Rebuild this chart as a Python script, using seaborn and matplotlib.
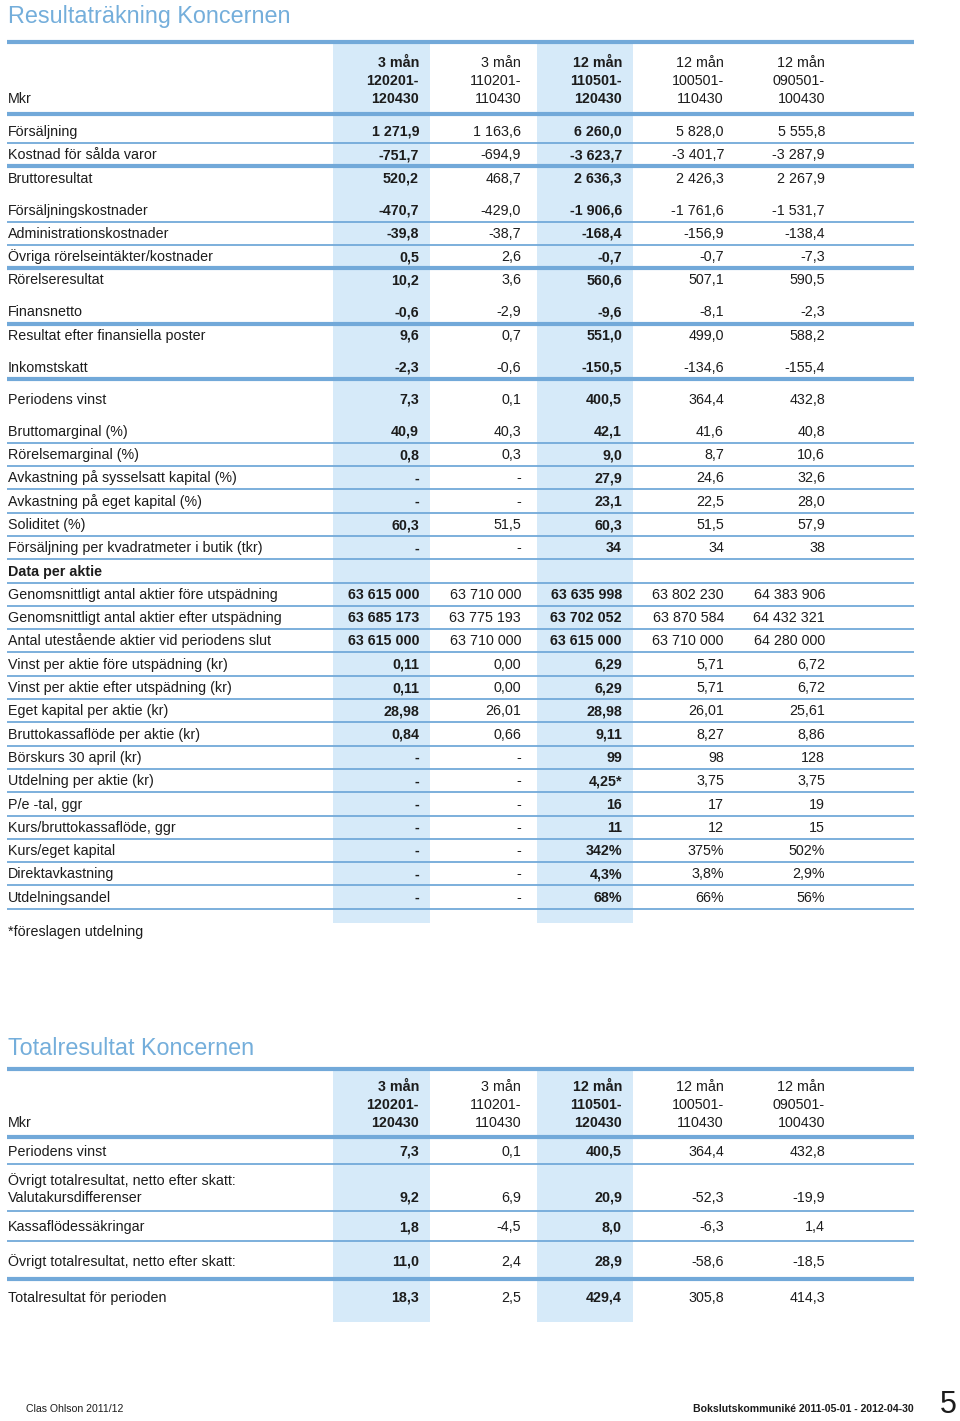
import matplotlib
matplotlib.use("Agg")
import matplotlib.pyplot as plt
import seaborn as sns

# ---- data -------------------------------------------------------------
col_heads = [["3 mån", "120201-", "120430"],
             ["3 mån", "110201-", "110430"],
             ["12 mån", "110501-", "120430"],
             ["12 mån", "100501-", "110430"],
             ["12 mån", "090501-", "100430"]]

labels = ["Försäljning", "Kostnad för sålda varor", "Bruttoresultat",
          "Försäljningskostnader", "Administrationskostnader",
          "Övriga rörelseintäkter/kostnader", "Rörelseresultat",
          "Finansnetto", "Resultat efter finansiella poster", "Inkomstskatt",
          "Periodens vinst", "Bruttomarginal (%)", "Rörelsemarginal (%)",
          "Avkastning på sysselsatt kapital (%)", "Avkastning på eget kapital (%)",
          "Soliditet (%)", "Försäljning per kvadratmeter i butik (tkr)",
          "Data per aktie",
          "Genomsnittligt antal aktier före utspädning",
          "Genomsnittligt antal aktier efter utspädning",
          "Antal utestående aktier vid periodens slut",
          "Vinst per aktie före utspädning (kr)",
          "Vinst per aktie efter utspädning (kr)",
          "Eget kapital per aktie (kr)", "Bruttokassaflöde per aktie (kr)",
          "Börskurs 30 april (kr)", "Utdelning per aktie (kr)", "P/e -tal, ggr",
          "Kurs/bruttokassaflöde, ggr", "Kurs/eget kapital", "Direktavkastning",
          "Utdelningsandel"]

q_2012 = ["1 271,9", "-751,7", "520,2", "-470,7", "-39,8", "0,5", "10,2",
          "-0,6", "9,6", "-2,3", "7,3", "40,9", "0,8", "-", "-", "60,3", "-",
          "", "63 615 000", "63 685 173", "63 615 000", "0,11", "0,11",
          "28,98", "0,84", "-", "-", "-", "-", "-", "-", "-"]
q_2011 = ["1 163,6", "-694,9", "468,7", "-429,0", "-38,7", "2,6", "3,6",
          "-2,9", "0,7", "-0,6", "0,1", "40,3", "0,3", "-", "-", "51,5", "-",
          "", "63 710 000", "63 775 193", "63 710 000", "0,00", "0,00",
          "26,01", "0,66", "-", "-", "-", "-", "-", "-", "-"]
y_1112 = ["6 260,0", "-3 623,7", "2 636,3", "-1 906,6", "-168,4", "-0,7",
          "560,6", "-9,6", "551,0", "-150,5", "400,5", "42,1", "9,0", "27,9",
          "23,1", "60,3", "34", "", "63 635 998", "63 702 052", "63 615 000",
          "6,29", "6,29", "28,98", "9,11", "99", "4,25*", "16", "11", "342%",
          "4,3%", "68%"]
y_1011 = ["5 828,0", "-3 401,7", "2 426,3", "-1 761,6", "-156,9", "-0,7",
          "507,1", "-8,1", "499,0", "-134,6", "364,4", "41,6", "8,7", "24,6",
          "22,5", "51,5", "34", "", "63 802 230", "63 870 584", "63 710 000",
          "5,71", "5,71", "26,01", "8,27", "98", "3,75", "17", "12", "375%",
          "3,8%", "66%"]
y_0910 = ["5 555,8", "-3 287,9", "2 267,9", "-1 531,7", "-138,4", "-7,3",
          "590,5", "-2,3", "588,2", "-155,4", "432,8", "40,8", "10,6", "32,6",
          "28,0", "57,9", "38", "", "64 383 906", "64 432 321", "64 280 000",
          "6,72", "6,72", "25,61", "8,86", "128", "3,75", "19", "15", "502%",
          "2,9%", "56%"]

tot_labels = ["Periodens vinst", "Valutakursdifferenser", "Kassaflödessäkringar",
              "Övrigt totalresultat, netto efter skatt:",
              "Totalresultat för perioden"]
tot_q_2012 = ["7,3", "9,2", "1,8", "11,0", "18,3"]
tot_q_2011 = ["0,1", "6,9", "-4,5", "2,4", "2,5"]
tot_y_1112 = ["400,5", "20,9", "8,0", "28,9", "429,4"]
tot_y_1011 = ["364,4", "-52,3", "-6,3", "-58,6", "305,8"]
tot_y_0910 = ["432,8", "-19,9", "1,4", "-18,5", "414,3"]

# ---- layout / style ---------------------------------------------------
# extra space before a row, and the rule drawn under it
gap_before = {3, 7, 9, 10, 11}
rule_under = {0: 1, 1: 2, 3: 1, 4: 1, 5: 2, 7: 2, 9: 2}
rule_under.update({i: 1 for i in range(11, 32)})
tot_y = [1151, 1197, 1226, 1261, 1297]
tot_rules = [(1164, 1), (1211, 1), (1241, 1), (1279, 2)]

BLUE = "#72a9d9"
SHADE = "#d6eaf9"
TITLE = "#74aedb"
INK = "#1c1c1c"
col_right = [419, 521, 622, 724, 825]
bold_cols = [True, False, True, False, False]
FS = 10.3

sns.set_theme(style="white")
plt.rcParams["font.family"] = ["Liberation Sans", "DejaVu Sans"]

fig = plt.figure(figsize=(9.6, 14.21), dpi=100)
ax = fig.add_axes([0, 0, 1, 1])
ax.set_xlim(0, 960)
ax.set_ylim(1421, 0)
ax.axis("off")


def rule(y, kind):
    ax.plot([7, 914], [y, y], color=BLUE, lw=1.3 if kind == 1 else 3.0,
            solid_capstyle="butt", zorder=2)


def header(y0):
    for c, lines in enumerate(col_heads):
        for k, s in enumerate(lines):
            ax.text(col_right[c], y0 + k * 18 + 5, s, ha="right", va="baseline",
                    fontsize=FS, color=INK,
                    fontweight="bold" if bold_cols[c] else "normal", zorder=3)
    ax.text(8, y0 + 36 + 5, "Mkr", ha="left", va="baseline", fontsize=FS,
            color=INK, zorder=3)


def shade(y0, y1):
    for c in (0, 2):
        ax.fill_between([333, 430] if c == 0 else [537, 633], y0, y1,
                        color=SHADE, lw=0, zorder=1)


# ---- table 1 ------------------------------------------------------------
ax.text(8, 23, "Resultaträkning Koncernen", fontsize=16.8, color=TITLE,
        va="baseline", ha="left")
shade(44, 923)
rule(42, 2)
header(62)
rule(114, 2)

cols = [q_2012, q_2011, y_1112, y_1011, y_0910]
y = 131.0
for i, lab in enumerate(labels):
    if i > 0:
        y += 23.3 + (8.7 if i in gap_before else 0)
    ax.text(8, y + 5, lab, ha="left", va="baseline", fontsize=FS, color=INK,
            fontweight="bold" if lab == "Data per aktie" else "normal", zorder=3)
    for c, vals in enumerate(cols):
        ax.text(col_right[c], y + 5, vals[i], ha="right", va="baseline",
                fontsize=FS, color=INK,
                fontweight="bold" if bold_cols[c] else "normal", zorder=3)
    if i in rule_under:
        rule(y + 12, rule_under[i])

ax.text(8, 936, "*föreslagen utdelning", ha="left", va="baseline",
        fontsize=FS, color=INK)

# ---- table 2 ------------------------------------------------------------
ax.text(8, 1055, "Totalresultat Koncernen", fontsize=16.8, color=TITLE,
        va="baseline", ha="left")
shade(1071, 1322)
rule(1069, 2)
header(1086)
rule(1137, 2)
ax.text(8, 1185, "Övrigt totalresultat, netto efter skatt:", ha="left",
        va="baseline", fontsize=FS, color=INK, zorder=3)
tcols = [tot_q_2012, tot_q_2011, tot_y_1112, tot_y_1011, tot_y_0910]
for i, lab in enumerate(tot_labels):
    ax.text(8, tot_y[i] + 5, lab, ha="left", va="baseline", fontsize=FS,
            color=INK, zorder=3)
    for c, vals in enumerate(tcols):
        ax.text(col_right[c], tot_y[i] + 5, vals[i], ha="right", va="baseline",
                fontsize=FS, color=INK,
                fontweight="bold" if bold_cols[c] else "normal", zorder=3)
for yy, kind in tot_rules:
    rule(yy, kind)

# ---- footer -------------------------------------------------------------
narrow = ["Liberation Sans Narrow", "Liberation Sans", "DejaVu Sans"]
ax.text(26, 1412, "Clas Ohlson 2011/12", ha="left", va="baseline",
        fontsize=7.6, color=INK, family=narrow)
ax.text(914, 1412, "Bokslutskommuniké 2011-05-01 - 2012-04-30", ha="right",
        va="baseline", fontsize=7.6, fontweight="bold", color=INK, family=narrow)
ax.text(948, 1413, "5", ha="center", va="baseline", fontsize=22, color=INK,
        family=narrow)

fig.savefig("out.png", dpi=100)
plt.close(fig)
